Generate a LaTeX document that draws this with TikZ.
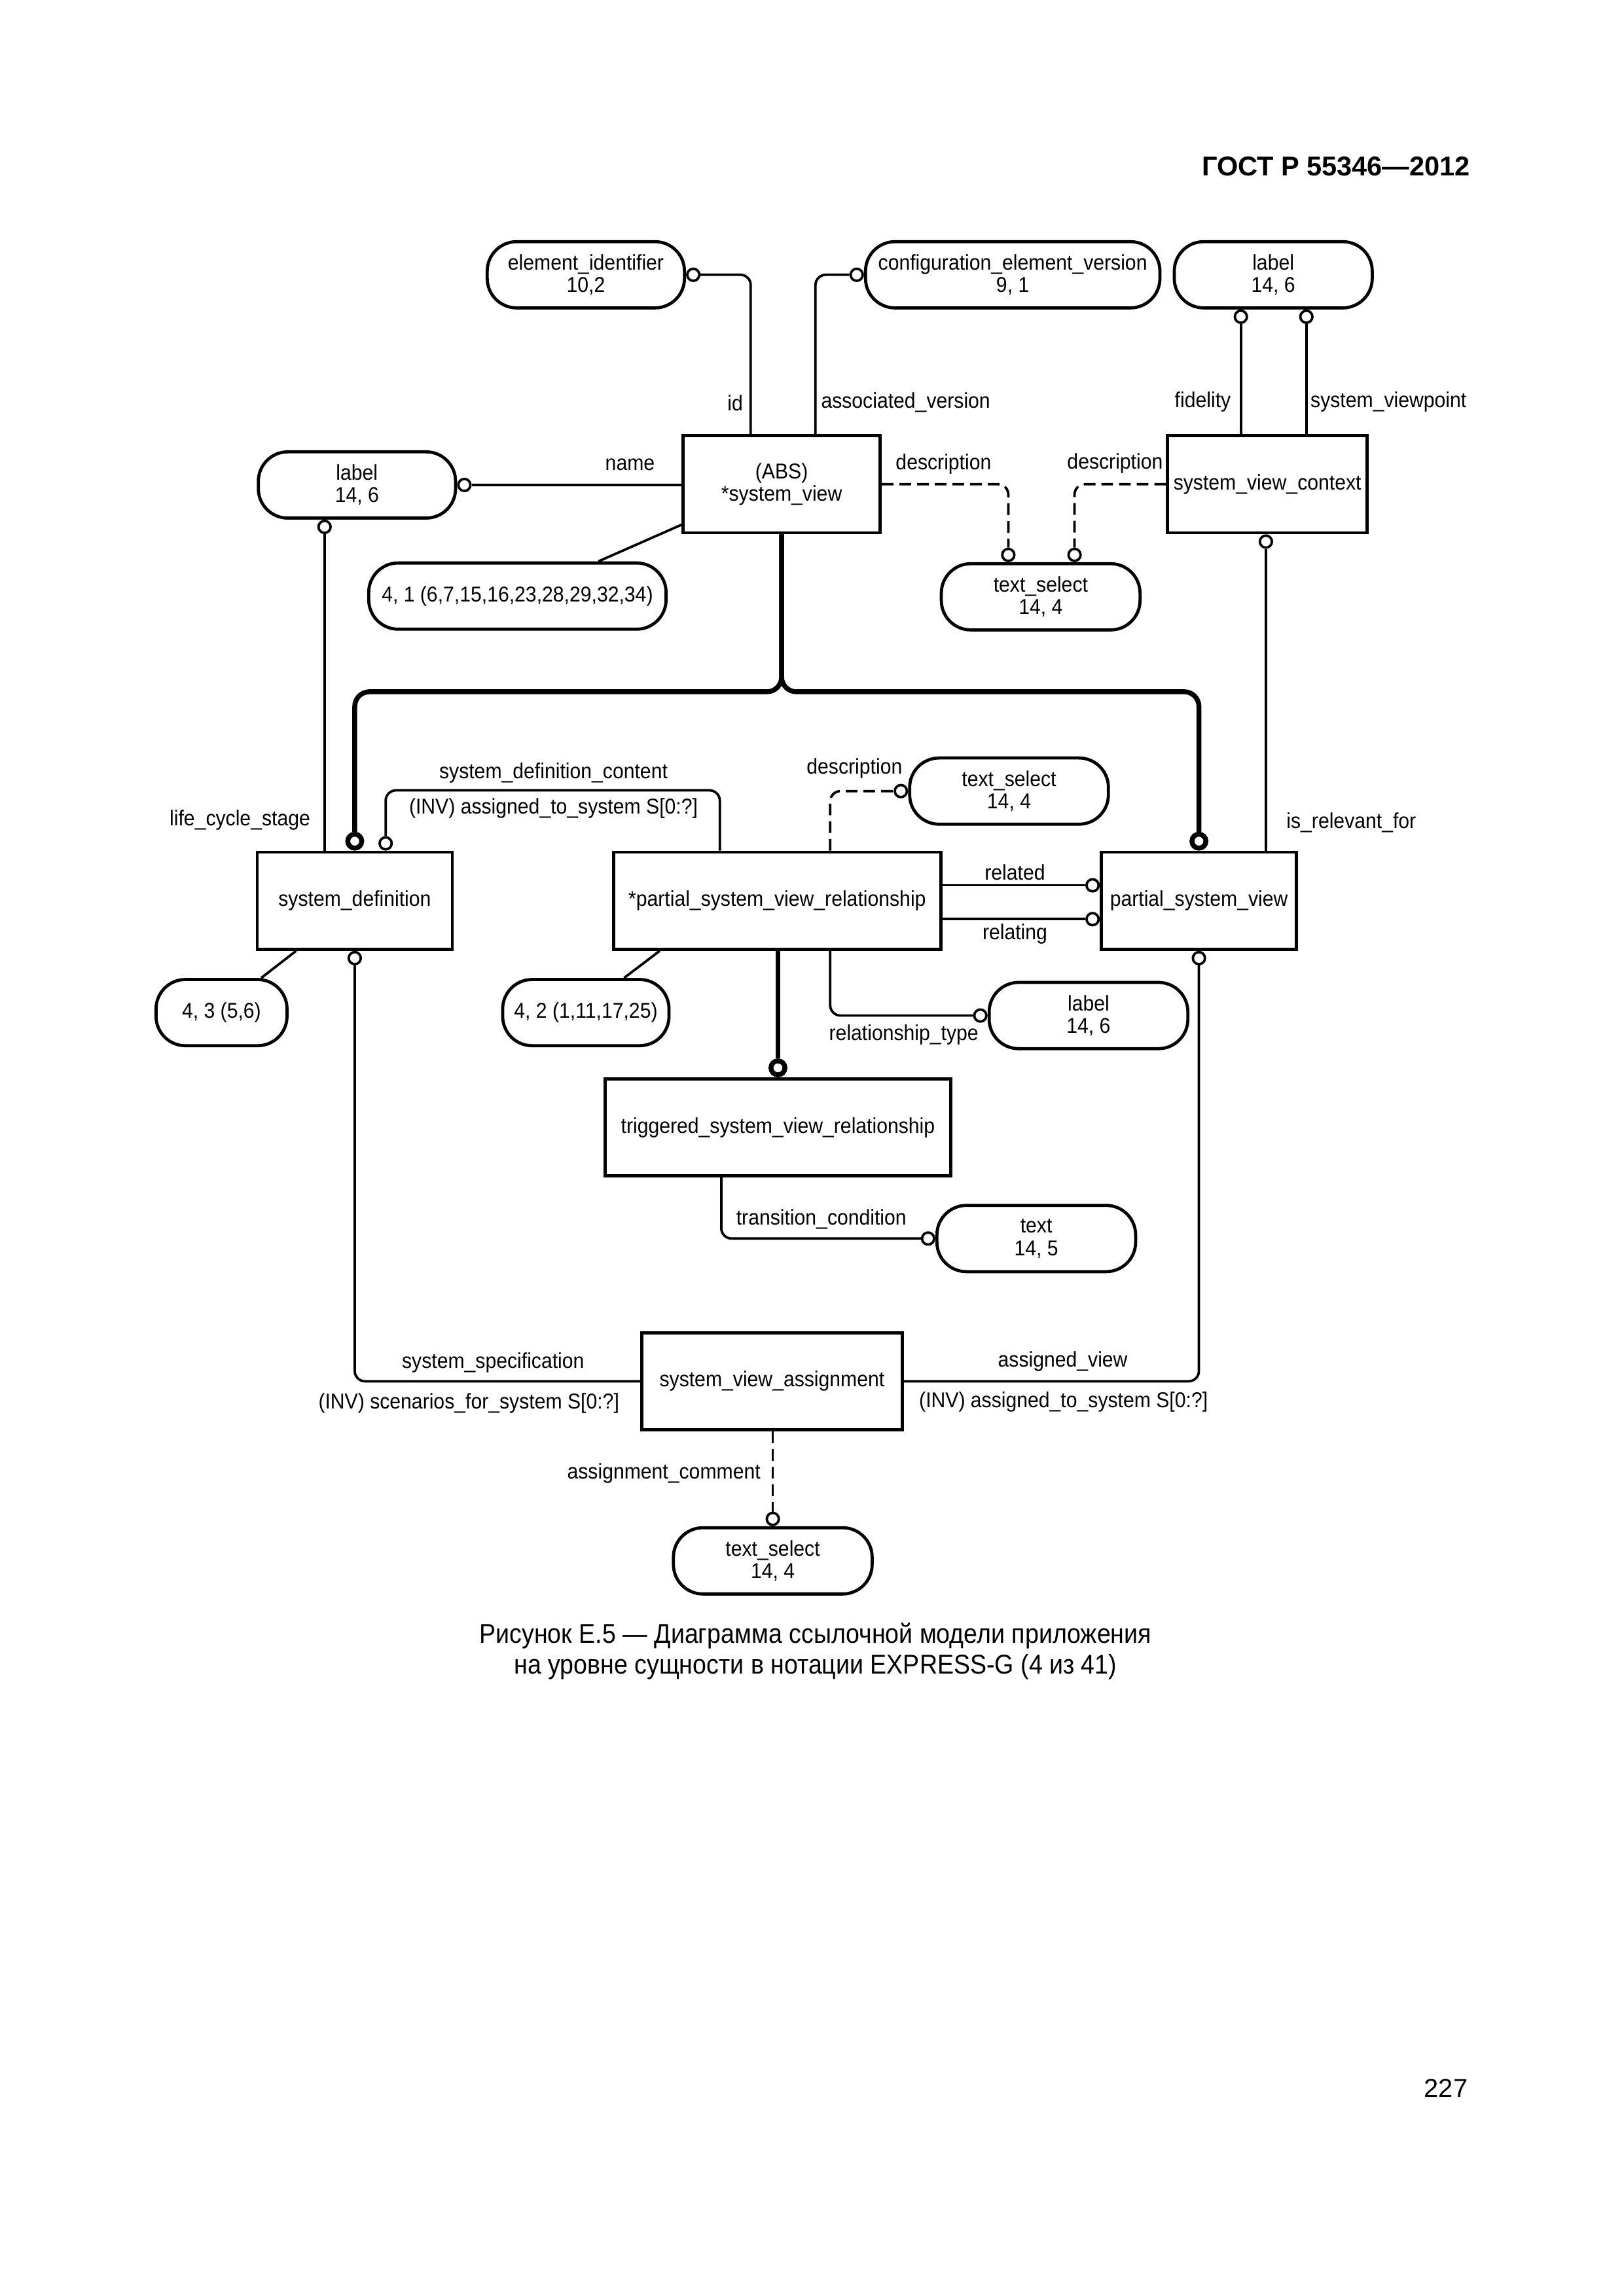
\documentclass[tikz,border=0pt]{standalone}
\usepackage{fontspec}
\setmainfont{Liberation Sans}[FakeStretch=0.92]
\newfontfamily\hdrfont{Liberation Sans}
\newfontfamily\capfont{Liberation Sans}[FakeStretch=0.905]
\newlength{\ux}
\setlength{\ux}{0.19039mm}
\newcommand{\dfs}{\fontsize{7.9}{8.3}\selectfont}
\tikzset{
  ent/.style={draw, line width=1.15pt, minimum height=66\ux, inner sep=0pt, font=\dfs, align=center},
  dty/.style={draw, line width=1.15pt, rounded corners=20\ux, minimum height=45\ux, inner sep=0pt, align=center, font=\dfs},
  oc/.style={circle, draw, line width=0.9pt, fill=white, inner sep=0pt, minimum size=8.2\ux},
  boc/.style={circle, draw, line width=1.8pt, fill=white, inner sep=0pt, minimum size=9.5\ux},
  rel/.style={line width=0.9pt, rounded corners=7\ux},
  opt/.style={rel, dash pattern=on 4.3pt off 2.2pt},
  sup/.style={line width=1.8pt, rounded corners=10\ux},
  lbl/.style={font=\dfs, inner sep=0pt},
}
\begin{document}
\begin{tikzpicture}[x=0.19039mm, y=-0.19039mm]
\useasboundingbox (0,0) rectangle (1103,1560);
% header and footer
\node[anchor=east, inner sep=0pt, font=\hdrfont\bfseries\fontsize{10}{12}\selectfont] (hdr) at (999,113) {ГОСТ Р 55346—2012};
\node[anchor=east, inner sep=0pt, font=\hdrfont\fontsize{9.6}{12}\selectfont] (pg) at (997.5,1419) {227};
\node[align=center, inner sep=0pt, font=\capfont\fontsize{10}{11.3}\selectfont] (cap) at (554,1122) {Рисунок Е.5 — Диаграмма ссылочной модели приложения\\на уровне сущности в нотации EXPRESS-G (4 из 41)};

% entities
\node[ent, minimum width=134\ux] (sv) at (531,329) {(ABS)\\*system\_view};
\node[ent, minimum width=135.5\ux] (svc) at (861,329) {system\_view\_context};
\node[ent, minimum width=132.5\ux] (sd) at (241,612) {system\_definition};
\node[ent, minimum width=222.5\ux] (psvr) at (528,612) {*partial\_system\_view\_relationship};
\node[ent, minimum width=132.5\ux] (psv) at (814.5,612) {partial\_system\_view};
\node[ent, minimum width=235\ux] (tsvr) at (528.5,766) {triggered\_system\_view\_relationship};
\node[ent, minimum width=177\ux] (sva) at (524.5,938.5) {system\_view\_assignment};

% defined types / references
\node[dty, minimum width=134\ux] (ei) at (398,186.7) {element\_identifier\\10,2};
\node[dty, minimum width=200\ux] (cev) at (688,186.7) {configuration\_element\_version\\9, 1};
\node[dty, minimum width=134.5\ux] (lbt) at (865,186.7) {label\\14, 6};
\node[dty, minimum width=134\ux] (lbl1) at (242.5,329.5) {label\\14, 6};
\node[dty, minimum width=202\ux] (n41) at (351.5,405) {4, 1 (6,7,15,16,23,28,29,32,34)};
\node[dty, minimum width=135\ux] (ts1) at (707,405.5) {text\_select\\14, 4};
\node[dty, minimum width=135\ux] (ts2) at (685.5,537.5) {text\_select\\14, 4};
\node[dty, minimum width=89\ux] (n43) at (150.5,688) {4, 3 (5,6)};
\node[dty, minimum width=113\ux] (n42) at (398,688) {4, 2 (1,11,17,25)};
\node[dty, minimum width=135\ux] (lbr) at (739.5,690) {label\\14, 6};
\node[dty, minimum width=135\ux] (t145) at (704,841.5) {text\\14, 5};
\node[dty, minimum width=135\ux] (ts3) at (525,1060.5) {text\_select\\14, 4};

% circles
\node[oc, anchor=west] (c1) at (ei.east) {};
\node[oc, anchor=east] (c2) at (cev.west) {};
\node[oc, anchor=north] (c3) at ([xshift=-22\ux]lbt.south) {};
\node[oc, anchor=north] (c4) at ([xshift=22.5\ux]lbt.south) {};
\node[oc, anchor=west] (c5) at (lbl1.east) {};
\node[oc, anchor=north] (c6) at ([xshift=-22\ux]lbl1.south) {};
\node[oc, anchor=south] (c7) at ([xshift=-22\ux]ts1.north) {};
\node[oc, anchor=south] (c8) at ([xshift=23\ux]ts1.north) {};
\node[oc, anchor=north] (c9) at ([xshift=-1\ux]svc.south) {};
\node[boc, anchor=south] (b1) at (sd.north) {};
\node[boc, anchor=south] (b2) at (psv.north) {};
\node[oc, anchor=south] (c10) at ([xshift=21\ux]sd.north) {};
\node[oc, anchor=east] (c11) at (ts2.west) {};
\node[oc, anchor=east] (c12) at ([yshift=10.5\ux]psv.west) {};
\node[oc, anchor=east] (c13) at ([yshift=-12.5\ux]psv.west) {};
\node[oc, anchor=east] (c14) at (lbr.west) {};
\node[boc, anchor=south] (b3) at (tsvr.north) {};
\node[oc, anchor=east] (c15) at (t145.west) {};
\node[oc, anchor=north] (c16) at (sd.south) {};
\node[oc, anchor=north] (c17) at (psv.south) {};
\node[oc, anchor=south] (c18) at (ts3.north) {};

% helper coordinates
\coordinate (bus) at (0,470);
\coordinate (bus2) at (0,537);
\coordinate (p1) at ([xshift=-39\ux]psvr.north);
\coordinate (p2) at ([xshift=36\ux]psvr.north);
\coordinate (p3) at ([xshift=36\ux]psvr.south);
\coordinate (p4) at ([xshift=-38.5\ux]tsvr.south);

% connectors
\draw[rel] (c1.east) -| ([xshift=-21\ux]sv.north);
\draw[rel] (c2.west) -| ([xshift=23\ux]sv.north);
\draw[rel] (c3.south) -- (c3.south |- svc.north);
\draw[rel] (c4.south) -- (c4.south |- svc.north);
\draw[rel] (c5.east) -- (c5.east -| sv.west);
\draw[rel] (c6.south) -- (c6.south |- sd.north);
\draw[rel] ([xshift=55\ux]n41.north) -- ([yshift=6.5\ux]sv.south west);
\draw[opt] (sv.east) -| (c7.north);
\draw[opt] (svc.west) -| (c8.north);
\draw[rel] (c9.south) -- (c9.south |- psv.north);
\draw[sup] (sv.south) |- (b1 |- bus) -- (b1.north);
\draw[sup] (sv.south) |- (b2 |- bus) -- (b2.north);
\draw[rel] (c10.north) |- (p1 |- bus2) -- (p1);
\draw[opt] (p2) |- (c11.west);
\draw[rel] (c12.west) -- (c12.west -| psvr.east);
\draw[rel] (c13.west) -- (c13.west -| psvr.east);
\draw[rel] (p3) |- (c14.west);
\draw[sup] (b3.north |- psvr.south) -- (b3.north);
\draw[rel] (p4) |- (c15.west);
\draw[rel] (c16.south) |- (sva.west);
\draw[rel] (c17.south) |- (sva.east);
\draw[opt] (c18.north |- sva.south) -- (c18.north);
\draw[rel] ([xshift=27.5\ux]sd.south west) -- ([xshift=27\ux]n43.north);
\draw[rel] ([xshift=32.5\ux]psvr.south west) -- ([xshift=26\ux]n42.north);

% attribute labels
\node[lbl, anchor=east] (l1) at (505,274) {id};
\node[lbl, anchor=west] (l2) at (557.5,273.5) {associated\_version};
\node[lbl, anchor=east] (l3) at (836.5,273) {fidelity};
\node[lbl, anchor=west] (l4) at (890,273) {system\_viewpoint};
\node[lbl] (l5) at (428,315.5) {name};
\node[lbl] (l6) at (641,315.5) {description};
\node[lbl] (l7) at (757.5,315) {description};
\node[lbl] (l8) at (163,557) {life\_cycle\_stage};
\node[lbl] (l9) at (918,559) {is\_relevant\_for};
\node[lbl] (l10) at (376,525) {system\_definition\_content};
\node[lbl] (l11) at (376,549) {(INV) assigned\_to\_system S[0:?]};
\node[lbl] (l12) at (580.5,522) {description};
\node[lbl] (l13) at (689.5,592.5) {related};
\node[lbl] (l14) at (689.5,634.5) {relating};
\node[lbl] (l15) at (614,703) {relationship\_type};
\node[lbl] (l16) at (558,828.5) {transition\_condition};
\node[lbl] (l17) at (335,926) {system\_specification};
\node[lbl] (l18) at (318.5,953.5) {(INV) scenarios\_for\_system S[0:?]};
\node[lbl] (l19) at (722,925) {assigned\_view};
\node[lbl] (l20) at (722.5,952.5) {(INV) assigned\_to\_system S[0:?]};
\node[lbl] (l21) at (451,1001) {assignment\_comment};
\end{tikzpicture}
\end{document}
